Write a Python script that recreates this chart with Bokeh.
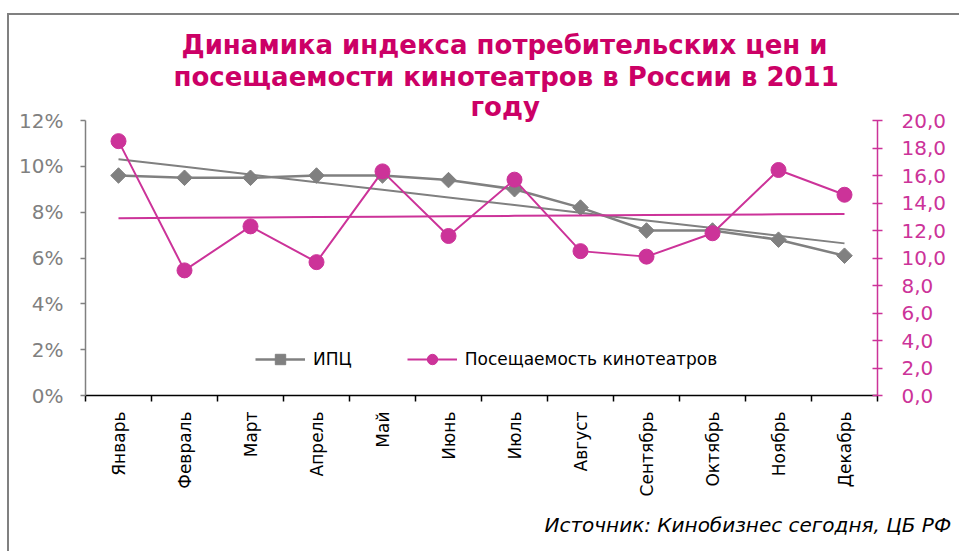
import math
import numpy as np
from bokeh.plotting import figure
from bokeh.models import Range1d, LinearAxis, FixedTicker, Legend, LegendItem, Title
from bokeh.embed import file_html
from bokeh.resources import INLINE

months = ["Январь", "Февраль", "Март", "Апрель", "Май", "Июнь",
          "Июль", "Август", "Сентябрь", "Октябрь", "Ноябрь", "Декабрь"]
cpi = [9.6, 9.5, 9.5, 9.6, 9.6, 9.4, 9.0, 8.2, 7.2, 7.2, 6.8, 6.1]
attendance = [18.5, 9.1, 12.3, 9.7, 16.3, 11.6, 15.7, 10.5, 10.1, 11.8, 16.4, 14.6]

left_ticks = [0, 2, 4, 6, 8, 10, 12]
left_tick_labels = ["0%", "2%", "4%", "6%", "8%", "10%", "12%"]
right_ticks = [0, 2, 4, 6, 8, 10, 12, 14, 16, 18, 20]
right_tick_labels = ["0,0", "2,0", "4,0", "6,0", "8,0", "10,0", "12,0", "14,0", "16,0", "18,0", "20,0"]

title_lines = ["Динамика индекса  потребительских  цен и",
               "посещаемости кинотеатров  в России в 2011",
               "году"]
source_text = "Источник:  Кинобизнес сегодня, ЦБ РФ"
legend_labels = ["ИПЦ", "Посещаемость кинотеатров"]

GRAY = "#808080"
MAG = "#CC3399"
TITLE = "#CC0066"
FONT = "DejaVu Sans"

x = np.arange(len(months))
cpi_trend = np.polyval(np.polyfit(x, cpi, 1), x)
att_trend = np.polyval(np.polyfit(x, attendance, 1), x)

p = figure(width=952, height=538, x_range=Range1d(-0.5, len(months) - 0.5),
           y_range=Range1d(left_ticks[0], left_ticks[-1]),
           output_backend="svg", toolbar_location=None,
           min_border_left=76, min_border_right=84, min_border_top=105, min_border_bottom=158)
p.margin = (13, 0, 0, 7)
p.styles = {"border-left": "2px solid #808080", "border-top": "2px solid #808080"}
p.extra_y_ranges = {"att": Range1d(right_ticks[0], right_ticks[-1])}
p.outline_line_color = None
p.xgrid.visible = False
p.ygrid.visible = False
p.background_fill_color = "white"
p.border_fill_color = "white"

# title: one Title per line, added from the frame outwards
title_offsets = [96, 88, 385]
title_standoffs = [0, 0, -3]
for line, off, so in reversed(list(zip(title_lines, title_offsets, title_standoffs))):
    p.add_layout(Title(text=line, align="left", offset=off, standoff=so,
                       text_font=FONT, text_font_style="bold", text_font_size="26px",
                       text_color=TITLE), "above")

# x axis
xa = p.xaxis[0]
xa.ticker = FixedTicker(ticks=list(x), minor_ticks=list(np.arange(len(months) + 1) - 0.5))
xa.major_label_overrides = {int(i): m for i, m in zip(x, months)}
xa.major_label_orientation = math.pi / 2
xa.major_tick_line_color = None
xa.major_tick_out = 0
xa.major_tick_in = 0
xa.minor_tick_line_color = "black"
xa.minor_tick_out = 6
xa.minor_tick_in = 0
xa.minor_tick_line_width = 1.5
xa.axis_line_color = "black"
xa.axis_line_width = 1.5
xa.major_label_text_font = FONT
xa.major_label_text_font_size = "17px"
xa.major_label_text_color = "black"
xa.major_label_standoff = 10

# left axis
ya = p.yaxis[0]
ya.ticker = FixedTicker(ticks=left_ticks)
ya.major_label_overrides = dict(zip(left_ticks, left_tick_labels))
ya.minor_tick_line_color = None
ya.major_tick_out = 5
ya.major_tick_in = 0
ya.axis_line_color = GRAY
ya.axis_line_width = 1.5
ya.major_tick_line_color = GRAY
ya.major_tick_line_width = 1.5
ya.major_label_text_font = FONT
ya.major_label_text_font_size = "20px"
ya.major_label_text_color = GRAY
ya.major_label_standoff = 17

# right axis
ra = LinearAxis(y_range_name="att", ticker=FixedTicker(ticks=right_ticks))
ra.major_label_overrides = dict(zip(right_ticks, right_tick_labels))
ra.minor_tick_line_color = None
ra.major_tick_out = 5
ra.major_tick_in = 5
ra.axis_line_color = MAG
ra.axis_line_width = 1.5
ra.major_tick_line_color = MAG
ra.major_tick_line_width = 1.5
ra.major_label_text_font = FONT
ra.major_label_text_font_size = "20px"
ra.major_label_text_color = MAG
ra.major_label_standoff = 19
p.add_layout(ra, "right")

# source
p.add_layout(Title(text=source_text, align="right", offset=-80, standoff=22,
                   text_font=FONT, text_font_style="italic", text_font_size="20px",
                   text_color="black"), "below")

# series
cl = p.line(x, cpi, line_color=GRAY, line_width=2.5)
cs = p.scatter(x, cpi, marker="square", angle=np.pi / 4, size=11,
               fill_color=GRAY, line_color=GRAY)
p.line(x, cpi_trend, line_color=GRAY, line_width=2)
al = p.line(x, attendance, line_color=MAG, line_width=2, y_range_name="att")
as_ = p.scatter(x, attendance, marker="circle", size=15,
                fill_color=MAG, line_color=MAG, y_range_name="att")
p.line(x, att_trend, line_color=MAG, line_width=2, y_range_name="att")

legend = Legend(items=[LegendItem(label=legend_labels[0], renderers=[cl, cs]),
                       LegendItem(label=legend_labels[1], renderers=[al, as_])],
                location=(170, 23), orientation="horizontal",
                border_line_color=None, background_fill_alpha=0,
                padding=0, margin=0, spacing=55,
                glyph_width=50, glyph_height=26,
                label_text_font=FONT, label_text_font_size="17px",
                label_text_color="black", label_standoff=8)
p.add_layout(legend, "center")

open("out.html", "w").write(file_html(p, INLINE))
